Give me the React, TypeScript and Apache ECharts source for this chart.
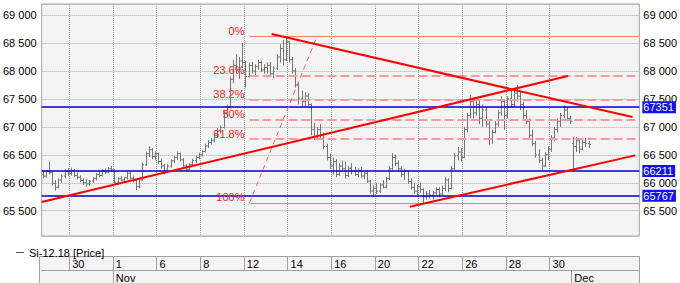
import React, { useEffect, useRef } from 'react';
import * as echarts from 'echarts';

// ---- categories (trading days) ----
const days = ['Oct 26','Oct 29','Oct 30','Oct 31','Nov 1','Nov 2','Nov 6','Nov 7','Nov 8','Nov 9','Nov 12','Nov 13','Nov 14','Nov 15','Nov 16','Nov 19','Nov 20','Nov 21','Nov 22','Nov 23','Nov 26','Nov 27','Nov 28','Nov 29','Nov 30','Dec 3'];
const barsPerDay = [2,7,7,7,7,7,7,7,7,7,7,7,7,7,7,7,7,7,7,7,7,7,7,7,7,6];
const dayTickDays = ['Oct 30','Nov 1','Nov 6','Nov 8','Nov 12','Nov 14','Nov 16','Nov 20','Nov 22','Nov 26','Nov 28','Nov 30'];
const monthTickDays = ['Nov 1','Dec 3'];
const monthNames = ['Nov','Dec'];

// ---- OHLC bars (one line per day) ----
const opens = [
  66150,66120,
  66200,66180,65990,65920,66050,66120,66200,
  66160,66220,66130,66100,66040,66000,65980,
  66030,66080,66150,66130,66210,66190,66250,
  66230,66010,66070,66050,66090,66170,66080,
  66040,65930,66050,66320,66520,66590,66470,
  66520,66380,66300,66200,66300,66390,66450,
  66520,66410,66300,66240,66330,66400,66450,
  66500,66560,66660,66720,66760,66850,66930,
  66990,67260,67350,67850,68100,68020,68180,
  68150,67900,68100,68000,68080,68150,68020,
  68060,68100,67950,68050,68250,68400,68200,
  68520,68200,68000,67750,67500,67450,67550,
  67400,66950,66820,66950,66850,66650,66450,
  66300,66380,66150,66300,66250,66130,66260,
  66200,66150,66220,66120,66170,66030,65850,
  65900,65850,65960,65920,66080,66250,66450,
  66350,66250,66150,66200,66020,65920,65850,
  65930,65880,65750,65800,65780,65820,65880,
  65800,65900,66050,65900,66250,66480,66550,
  66450,66950,67200,67450,67250,67400,67150,
  67300,67050,66780,66900,67050,67250,67450,
  67200,67500,67400,67600,67550,67400,67200,
  67100,66850,66700,66500,66400,66300,66500,
  66600,66800,66950,67100,67200,67300,67150,
  66700,66650,66750,66600,66720,66700,
];
const highs = [
  66220,66230,
  66380,66200,66050,66080,66150,66240,66260,
  66270,66250,66190,66130,66080,66060,66050,
  66100,66170,66220,66240,66260,66280,66300,
  66240,66100,66120,66110,66200,66200,66130,
  66060,66080,66360,66560,66650,66620,66560,
  66540,66420,66340,66330,66420,66480,66560,
  66540,66440,66330,66350,66430,66480,66540,
  66580,66700,66760,66800,66880,66980,67020,
  67300,67400,67900,68200,68300,68250,68500,
  68180,68150,68160,68120,68200,68180,68120,
  68150,68160,68080,68300,68480,68550,68600,
  68540,68250,68050,67800,67650,67620,67600,
  67420,67070,67000,67050,66900,66700,66520,
  66450,66420,66350,66400,66380,66300,66350,
  66280,66260,66280,66200,66220,66050,65950,
  66000,65990,66050,66100,66300,66530,66500,
  66400,66300,66250,66220,66080,66000,65960,
  66000,65900,65850,65870,65850,65920,65920,
  65950,66100,66080,66300,66530,66640,66620,
  67000,67250,67570,67520,67500,67480,67400,
  67350,67100,66950,67100,67300,67550,67500,
  67550,67650,67700,67750,67650,67450,67300,
  67150,66950,66750,66600,66450,66550,66650,
  66850,67000,67150,67250,67380,67350,67200,
  66820,66820,66800,66780,66800,66750,
];
const lows = [
  66080,66090,
  66150,65950,65860,65900,66000,66080,66120,
  66130,66100,66060,66010,65960,65930,65950,
  66000,66040,66100,66110,66150,66170,66200,
  65980,65970,66030,66000,66060,66060,66010,
  65870,65900,66040,66300,66460,66420,66400,
  66340,66250,66150,66180,66270,66350,66410,
  66380,66260,66190,66220,66300,66350,66420,
  66470,66540,66620,66680,66720,66800,66880,
  66970,67180,67330,67780,67950,67860,68050,
  67700,67880,67950,67920,68020,67980,67950,
  67950,67900,67870,68020,68150,68100,68180,
  68150,67950,67700,67400,67340,67350,67360,
  66850,66760,66760,66800,66600,66400,66250,
  66150,66100,66120,66200,66080,66100,66150,
  66120,66100,66090,66060,66000,65800,65750,
  65800,65820,65900,65900,66050,66230,66300,
  66200,66100,66050,65980,65880,65800,65780,
  65820,65640,65700,65720,65700,65780,65750,
  65760,65850,65830,65880,66230,66400,66380,
  66440,66900,67150,67150,67200,67050,67000,
  67000,66680,66700,66880,67000,67200,66950,
  67150,67350,67350,67450,67300,67100,67050,
  66800,66650,66450,66350,66220,66280,66400,
  66550,66750,66900,67000,67150,67100,67050,
  66230,66550,66530,66580,66640,66620,
];
const closes = [
  66120,66200,
  66180,65990,65920,66050,66120,66200,66160,
  66220,66130,66100,66040,66000,65980,66030,
  66080,66150,66130,66210,66190,66250,66230,
  66010,66070,66050,66090,66170,66080,66040,
  65930,66050,66320,66520,66590,66470,66520,
  66380,66300,66200,66300,66390,66450,66520,
  66410,66300,66240,66330,66400,66450,66500,
  66560,66660,66720,66760,66850,66930,66990,
  67260,67350,67850,68100,68020,68180,68150,
  67900,68100,68000,68080,68150,68020,68060,
  68100,67950,68050,68250,68400,68200,68520,
  68200,68000,67750,67500,67450,67550,67400,
  66950,66820,66950,66850,66650,66450,66300,
  66380,66150,66300,66250,66130,66260,66200,
  66150,66220,66120,66170,66030,65850,65900,
  65850,65960,65920,66080,66250,66450,66350,
  66250,66150,66200,66020,65920,65850,65930,
  65880,65750,65800,65780,65820,65880,65800,
  65900,66050,65900,66250,66480,66550,66450,
  66950,67200,67450,67250,67400,67150,67300,
  67050,66780,66900,67050,67250,67450,67200,
  67500,67400,67600,67550,67400,67200,67100,
  66850,66700,66500,66400,66300,66500,66600,
  66800,66950,67100,67200,67300,67150,67100,
  66650,66750,66600,66720,66700,66683,
];

// ---- horizontal support / resistance levels ----
const levelValues = [67351, 66211, 65767];
const lastPrice = 66683;

// ---- Fibonacci retracement ----
const fibHigh = 68620;
const fibLow = 65640;
const fibRatios = [0, 0.236, 0.382, 0.5, 0.618, 1];
const fibLabels = ['0%', '23.6%', '38.2%', '50%', '61.8%', '100%'];
const fibStartBar = 66.8;
const fibDiagonal = [[66.8, 65640], [88.5, 68624]];

// ---- trend lines [bar position, price] ----
const trendLines = [
  [[73.9, 68660], [189.6, 67175]],
  [[0.17, 65655], [168.9, 67909]],
  [[118.2, 65571], [190.5, 66490]],
];

const xMin = 0.17;
const xMax = 191.8;
const yMin = 65048;
const yMax = 69197;

const fmtThousands = (v: number) => String(Math.round(v)).replace(/\B(?=(\d{3})+(?!\d))/g, ' ');

export default function App() {
  const ref = useRef<HTMLDivElement>(null);
  useEffect(() => {
    if (!ref.current) return;
    const chart = echarts.init(ref.current, null, { renderer: 'svg' });

    const dayStart: Record<string, number> = {};
    let acc = 0;
    days.forEach((d, i) => { dayStart[d] = acc; acc += barsPerDay[i]; });
    const dayTickVals = dayTickDays.map((d) => dayStart[d]);
    const monthTickVals = monthTickDays.map((d) => dayStart[d]);
    const dayLabelOf = (v: number) => {
      const i = dayTickVals.indexOf(v);
      return i >= 0 ? dayTickDays[i].split(' ')[1] : '';
    };
    const monthLabelOf = (v: number) => {
      const i = monthTickVals.indexOf(v);
      return i >= 0 ? monthNames[i] : '';
    };

    const ohlc = opens.map((o, i) => [i + 0.5, o, highs[i], lows[i], closes[i]]);
    const barColor = '#767676';

    const markData: any[] = [];
    levelValues.forEach((v) => {
      markData.push({
        yAxis: v,
        lineStyle: { color: '#0000c8', width: 1.6, type: 'solid' },
        label: {
          show: true, position: 'end', formatter: String(v), color: '#ffffff',
          backgroundColor: '#1010ff', padding: [1, 2, 0, 1], fontSize: 11, distance: 3,
        },
      });
    });
    markData.push({
      yAxis: lastPrice,
      lineStyle: { opacity: 0, width: 0 },
      label: {
        show: true, position: 'end', formatter: fmtThousands(lastPrice), color: '#000',
        backgroundColor: '#f6f6f6', borderColor: '#b0b0b0', borderWidth: 1,
        padding: [1, 1, 0, 1], fontSize: 11, distance: 3,
      },
    });
    fibRatios.forEach((r, i) => {
      const v = fibHigh - r * (fibHigh - fibLow);
      const solid = r === 0 || r === 1;
      markData.push([
        {
          coord: [fibStartBar, v],
          lineStyle: solid
            ? { color: '#ff7a7a', width: 1.2, type: 'solid' }
            : { color: '#ff9a9a', width: 1.8, type: [9, 4] },
          label: {
            show: true, position: 'start', formatter: fibLabels[i], color: '#ff2424',
            fontSize: 11, verticalAlign: 'bottom', distance: 5,
          },
        },
        { coord: [xMax, v] },
      ]);
    });
    markData.push([
      { coord: fibDiagonal[0], lineStyle: { color: '#ff6060', width: 1, type: [5, 4] }, label: { show: false } },
      { coord: fibDiagonal[1] },
    ]);
    trendLines.forEach((t) => {
      markData.push([
        { coord: t[0], lineStyle: { color: '#ff0000', width: 2, type: 'solid' }, label: { show: false } },
        { coord: t[1] },
      ]);
    });

    const lastIdx = closes.length - 1;

    chart.setOption({
      animation: false,
      textStyle: { fontFamily: 'Liberation Sans, Arial, sans-serif' },
      grid: {
        left: 39, right: 40, top: 4, height: 232, show: true,
        backgroundColor: '#f4f4f4', borderColor: '#a6a6a6', borderWidth: 1,
      },
      legend: {
        data: [{ name: 'Si-12.18 [Price]', icon: 'rect', itemStyle: { color: '#555' } }],
        left: 11, top: 242, itemWidth: 8, itemHeight: 1,
        textStyle: { fontSize: 11, color: '#000' }, selectedMode: false,
      },
      graphic: [
        {
          type: 'rect', z: -10, silent: true,
          shape: { x: 39.5, y: 256.5, width: 600, height: 40 },
          style: { fill: '#f4f4f4', stroke: '#a0a0a0', lineWidth: 1 },
        },
      ],
      xAxis: [
        {
          type: 'value', min: xMin, max: xMax, position: 'bottom', offset: 20,
          axisLine: { show: true, lineStyle: { color: '#a0a0a0' } },
          axisTick: { show: true, customValues: dayTickVals, length: 14, lineStyle: { color: '#a0a0a0' } },
          axisLabel: {
            customValues: dayTickVals, formatter: (v: number) => dayLabelOf(v),
            align: 'left', padding: [0, 0, 0, 3], margin: 2, fontSize: 11, color: '#000',
          },
          splitLine: { show: true, lineStyle: { color: '#a8a8a8', type: 'dotted' } },
        },
        {
          type: 'value', min: xMin, max: xMax, position: 'bottom', offset: 34,
          axisLine: { show: true, lineStyle: { color: '#a0a0a0' } },
          axisTick: { show: true, customValues: monthTickVals, length: 14, lineStyle: { color: '#a0a0a0' } },
          axisLabel: {
            customValues: monthTickVals, formatter: (v: number) => monthLabelOf(v),
            align: 'left', padding: [0, 0, 0, 3], margin: 2, fontSize: 11, color: '#000',
          },
          splitLine: { show: false },
        },
      ],
      yAxis: [
        {
          type: 'value', min: yMin, max: yMax, splitNumber: 8, position: 'left',
          axisLine: { show: false }, axisTick: { show: false },
          axisLabel: { formatter: fmtThousands, fontSize: 11, color: '#000', margin: 5, showMinLabel: false, showMaxLabel: false },
          splitLine: { show: true, lineStyle: { color: '#a8a8a8', type: 'dotted' } },
        },
        {
          type: 'value', min: yMin, max: yMax, splitNumber: 8, position: 'right',
          axisLine: { show: false }, axisTick: { show: false },
          axisLabel: { formatter: fmtThousands, fontSize: 11, color: '#000', margin: 4, showMinLabel: false, showMaxLabel: false },
          splitLine: { show: false },
        },
      ],
      series: [
        {
          type: 'custom', name: 'Si-12.18 [Price]', xAxisIndex: 0, yAxisIndex: 0,
          data: ohlc, encode: { x: 0, y: [1, 2, 3, 4] }, z: 2,
          renderItem: (params: any, api: any) => {
            const x = api.value(0);
            const o = api.coord([x, api.value(1)]);
            const h = api.coord([x, api.value(2)]);
            const l = api.coord([x, api.value(3)]);
            const c = api.coord([x, api.value(4)]);
            const px = Math.round(o[0]) + 0.5;
            const st = { stroke: barColor, lineWidth: 1 };
            return {
              type: 'group',
              children: [
                { type: 'line', shape: { x1: px, y1: h[1], x2: px, y2: l[1] }, style: st },
                { type: 'line', shape: { x1: px - 1.5, y1: o[1], x2: px, y2: o[1] }, style: st },
                { type: 'line', shape: { x1: px, y1: c[1], x2: px + 1.5, y2: c[1] }, style: st },
              ],
            };
          },
        },
        {
          type: 'line', name: 'overlays', xAxisIndex: 0, yAxisIndex: 0, z: 3,
          data: [[lastIdx + 0.5, closes[lastIdx]]], symbol: 'none', showSymbol: false,
          lineStyle: { opacity: 0 }, silent: true,
          markLine: { silent: true, symbol: ['none', 'none'], animation: false, data: markData },
        },
      ],
    });
    return () => chart.dispose();
  }, []);
  return <div ref={ref} style={{ position: 'absolute', left: 0, top: 0, width: 680, height: 283 }} />;
}
